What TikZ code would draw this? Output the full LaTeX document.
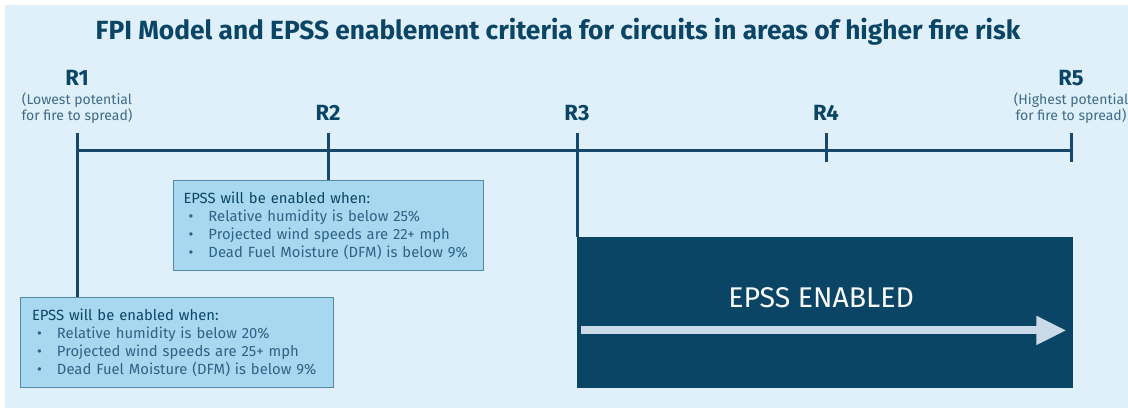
\documentclass[tikz,border=0pt]{standalone}
\usepackage{fontspec}
\setmainfont{Fira Sans}
\usepackage{xcolor}
\usepackage{tikz}
\usetikzlibrary{arrows.meta,calc}
\definecolor{fpinavy}{HTML}{0B4566}
\definecolor{fpiline}{HTML}{17486B}
\definecolor{fpisky}{HTML}{DFF0FA}
\definecolor{fpibox}{HTML}{A8D8EF}
\definecolor{fpiboxline}{HTML}{5289AA}
\definecolor{fpisub}{HTML}{3E6B8A}
\definecolor{fpiitem}{HTML}{2F6286}
\definecolor{fpiarrow}{HTML}{CBDAE8}
\newcommand{\crititem}[1]{\mbox{\makebox[25pt][l]{\hspace{5pt}\textbullet}#1}}
\tikzset{
  fpi title/.style={
    font=\bfseries\fontsize{26.3}{30}\selectfont,
    text=fpinavy,
    inner sep=0pt,
  },
  fpi level/.style={
    font=\bfseries\fontsize{22}{26}\selectfont,
    text=fpinavy,
    inner sep=0pt,
  },
  fpi note/.style={
    font=\fontsize{14}{16}\selectfont,
    text=fpisub,
    align=center,
    inner sep=0pt,
  },
  fpi axis/.style={line width=3pt, draw=fpiline},
  fpi criteria/.style={
    rectangle,
    anchor=north west,
    draw=fpiboxline,
    fill=fpibox,
    line width=1pt,
    minimum width=310pt,
    minimum height=90pt,
    text width=290pt,
    align=left,
    inner xsep=10pt,
    inner ysep=4pt,
    font=\fontsize{14.8}{18}\selectfont,
    text=fpiitem,
  },
  fpi enabled/.style={
    rectangle,
    anchor=north west,
    fill=fpinavy,
    minimum width=496pt,
    minimum height=151pt,
    inner sep=0pt,
  },
  fpi enabled text/.style={
    font=\fontsize{28.5}{32}\selectfont,
    text=white!90!fpiarrow,
    inner sep=0pt,
  },
  fpi arrow/.style={
    draw=fpiarrow,
    line width=8pt,
    -{Triangle[width=27pt,length=30pt]},
  },
}

\begin{document}
\begin{tikzpicture}[x=1pt,y=-1pt]
  \useasboundingbox (0,0) rectangle (1128,408);
  \fill[white] (0,0) rectangle (1128,408);
  \fill[fpisky] (5,5) rectangle (1128,408);

  \node[fpi title] (title) at (558,32)
    {FPI Model and EPSS enablement criteria for circuits in areas of higher fire risk};

  % risk levels along the scale
  \foreach \i/\x in {1/77,2/328,3/577,4/826,5/1071}
    \coordinate (t\i) at (\x,150);
  \draw[fpi axis] (t1) -- (t5);
  \foreach \i in {1,...,5}
    \draw[fpi axis] ($(t\i)+(0,-17)$) -- ($(t\i)+(0,12)$);

  \node[fpi level] (r1) at (77,78) {R1};
  \node[fpi note] (r1note) at (77,108) {(Lowest potential\\for fire to spread)};
  \node[fpi level] (r2) at (328,113) {R2};
  \node[fpi level] (r3) at (577,113) {R3};
  \node[fpi level] (r4) at (826,113) {R4};
  \node[fpi level] (r5) at (1071,78) {R5};
  \node[fpi note] (r5note) at (1071,108) {(Highest potential\\for fire to spread)};

  % criteria boxes
  \node[fpi criteria] (crit2) at (173,180) {%
    {\color{fpinavy}EPSS will be enabled when:}\\
    \crititem{Relative humidity is below 25\%}\\
    \crititem{Projected wind speeds are 22+ mph}\\
    \crititem{Dead Fuel Moisture (DFM) is below 9\%}};
  \node[fpi criteria, minimum width=313pt] (crit1) at (20,297) {%
    {\color{fpinavy}EPSS will be enabled when:}\\
    \crititem{Relative humidity is below 20\%}\\
    \crititem{Projected wind speeds are 25+ mph}\\
    \crititem{Dead Fuel Moisture (DFM) is below 9\%}};
  \node[fpi enabled] (enabled) at (577,237) {};
  \node[fpi enabled text] (enabledlabel) at ($(enabled.north)+(-4,61)$) {EPSS ENABLED};
  \coordinate (arrowstart) at ($(enabled.south west)+(4,-58)$);
  \coordinate (arrowend) at ($(enabled.south east)+(-7,-58)$);
  \draw[fpi arrow] (arrowstart) -- (arrowend);

  \draw[fpi axis] (t1) -- (t1 |- crit1.north);
  \draw[fpi axis] (t2) -- (t2 |- crit2.north);
  \draw[fpi axis] (t3) -- (t3 |- enabled.north);
\end{tikzpicture}
\end{document}
